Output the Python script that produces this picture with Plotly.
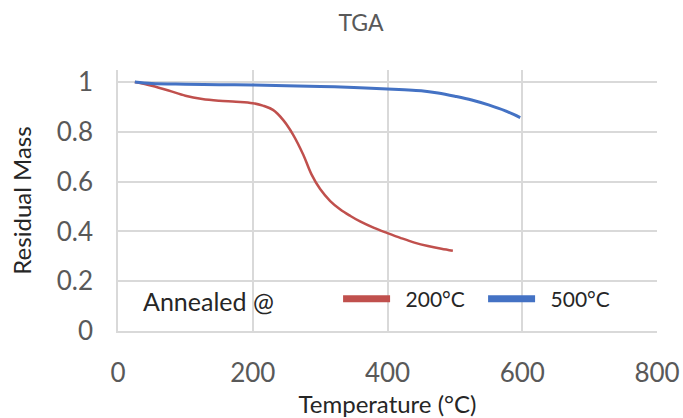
import plotly.graph_objects as go

# ---- data ----
red_x = [25, 50, 75, 100, 125, 150, 175, 200, 215, 230, 245, 260, 275, 287, 300,
         315, 330, 345, 360, 380, 400, 420, 440, 460, 480, 497]
red_y = [1.0, 0.985, 0.966, 0.945, 0.932, 0.925, 0.921, 0.915, 0.905, 0.888, 0.848,
         0.788, 0.708, 0.630, 0.570, 0.522, 0.488, 0.462, 0.439, 0.414, 0.393, 0.373,
         0.355, 0.341, 0.330, 0.322]

blue_x = [25, 50, 100, 150, 200, 250, 300, 350, 400, 425, 450, 475, 500, 525, 550, 575, 597]
blue_y = [1.0, 0.994, 0.991, 0.989, 0.988, 0.985, 0.982, 0.978, 0.972, 0.969, 0.965,
          0.956, 0.943, 0.928, 0.908, 0.884, 0.857]

series_names = ["200°C", "500°C"]
x_ticks = [0, 200, 400, 600, 800]
y_ticks = [0, 0.2, 0.4, 0.6, 0.8, 1]
y_labels = ["0", "0.2", "0.4", "0.6", "0.8", "1"]

RED = "#C0504D"
BLUE = "#4472C4"
GRID = "#d9d9d9"
FONT = "Lato, Open Sans, sans-serif"

W, H = 683, 418
L, R, T, B = 118, 26, 70, 87
PW, PH = W - L - R, H - T - B

fig = go.Figure()
fig.add_trace(go.Scatter(x=red_x, y=red_y, mode="lines", line=dict(color=RED, width=2.5),
                         showlegend=False, line_shape="spline"))
fig.add_trace(go.Scatter(x=blue_x, y=blue_y, mode="lines", line=dict(color=BLUE, width=3),
                         showlegend=False, line_shape="spline"))
# legend entries
fig.add_trace(go.Scatter(x=[None], y=[None], mode="lines", name="\u2002" + series_names[0],
                         line=dict(color=RED, width=7)))
fig.add_trace(go.Scatter(x=[None], y=[None], mode="lines", name="\u2002" + series_names[1],
                         line=dict(color=BLUE, width=7)))

fig.update_layout(
    width=W, height=H,
    margin=dict(l=L, r=R, t=T, b=B),
    paper_bgcolor="white", plot_bgcolor="white",
    font=dict(family=FONT, color="#595959"),
    title=dict(text="TGA", xref="container", x=361 / W, xanchor="center",
               yref="container", y=1 - 23 / H, yanchor="middle",
               font=dict(size=23, color="#595959")),
    xaxis=dict(range=[0, 800], tickvals=x_ticks, automargin=False,
               showgrid=True, gridcolor=GRID, gridwidth=1.5, zeroline=False,
               showline=True, linecolor=GRID, linewidth=1.5,
               ticks="", ticklabelstandoff=18, tickfont=dict(size=26, color="#595959"),
               title=dict(text="Temperature (°C)", font=dict(size=24, color="#262626"),
                          standoff=14)),
    yaxis=dict(range=[0, (331 - 70) / 249.0], tickvals=y_ticks, ticktext=y_labels,
               automargin=False,
               showgrid=True, gridcolor=GRID, gridwidth=1.5, zeroline=False,
               showline=True, linecolor=GRID, linewidth=1.5,
               ticks="", ticklabelstandoff=18, tickfont=dict(size=26, color="#595959"),
               title=dict(text="Residual Mass", font=dict(size=24, color="#262626"),
                          standoff=18)),
    legend=dict(orientation="h", x=(141 - L) / PW, xanchor="left",
                y=(H - B - 300) / PH, yanchor="middle",
                bgcolor="rgba(0,0,0,0)", font=dict(size=21, color="#262626"),
                title=dict(text="Annealed @\u2003\u2003\u2003",
                           font=dict(size=25, color="#262626")),
                itemwidth=47, entrywidth=83, entrywidthmode="pixels", tracegroupgap=0),
)

fig.write_html("out.html")
